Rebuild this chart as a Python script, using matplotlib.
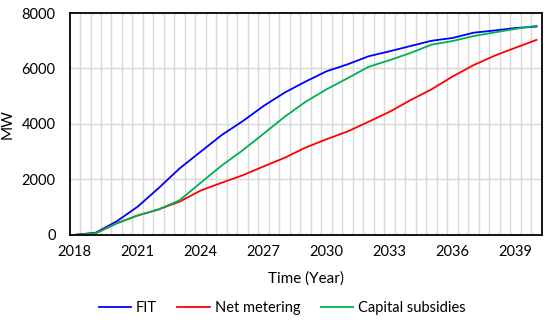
import matplotlib
matplotlib.use("Agg")
import matplotlib.pyplot as plt
import numpy as np

years = list(range(2018, 2041))
fit = [0, 80, 490, 1020, 1690, 2400, 3000, 3600, 4100, 4650, 5130, 5530, 5900,
       6150, 6440, 6620, 6810, 7000, 7100, 7290, 7370, 7460, 7510]
net_metering = [0, 60, 420, 700, 920, 1200, 1600, 1880, 2150, 2470, 2780, 3150, 3450,
                3730, 4080, 4440, 4860, 5250, 5710, 6120, 6460, 6750, 7030]
capital_subsidies = [0, 60, 420, 700, 920, 1250, 1880, 2500, 3050, 3650, 4260, 4800, 5250,
                     5650, 6060, 6300, 6560, 6860, 6990, 7170, 7300, 7430, 7540]
xticks = [2018, 2021, 2024, 2027, 2030, 2033, 2036, 2039]
yticks = [0, 2000, 4000, 6000, 8000]

plt.rcParams['font.family'] = ['Lato', 'DejaVu Sans']

fig = plt.figure(figsize=(5.5, 3.22), dpi=100)
ax = fig.add_axes([0.1264, 0.2705, 0.985 - 0.1264, 0.9596 - 0.2705])

# vertical gridlines at half-year category boundaries
for g in np.arange(2018.25, 2040.0, 0.5):
    ax.axvline(g, color='#D9D9D9', lw=1.0, zorder=0)
for g in yticks[1:-1]:
    ax.axhline(g, color='#D9D9D9', lw=1.0, zorder=0)

ax.plot(years, fit, color='#0000FF', lw=1.3, label='FIT')
ax.plot(years, net_metering, color='#FF0000', lw=1.3, label='Net metering')
ax.plot(years, capital_subsidies, color='#00B050', lw=1.3, label='Capital subsidies')

ax.set_xlim(2017.75, 2040.25)
ax.set_ylim(0, 8000)
ax.set_xticks(xticks)
ax.set_yticks(yticks)
ax.tick_params(length=0, labelsize=10.5)
ax.tick_params(axis='x', pad=7)
ax.tick_params(axis='y', pad=10)
for s in ax.spines.values():
    s.set_color('black')
    s.set_linewidth(1.3)

ax.set_xlabel('Time (Year)', fontsize=11, labelpad=9)
ax.set_ylabel('MW', fontsize=11, labelpad=5)

fig.legend(loc='center', bbox_to_anchor=(0.513, 0.043), ncol=3, frameon=False,
           fontsize=10.5, handlelength=2.2, columnspacing=1.4, handletextpad=0.35)

fig.savefig('out.png', dpi=100)
